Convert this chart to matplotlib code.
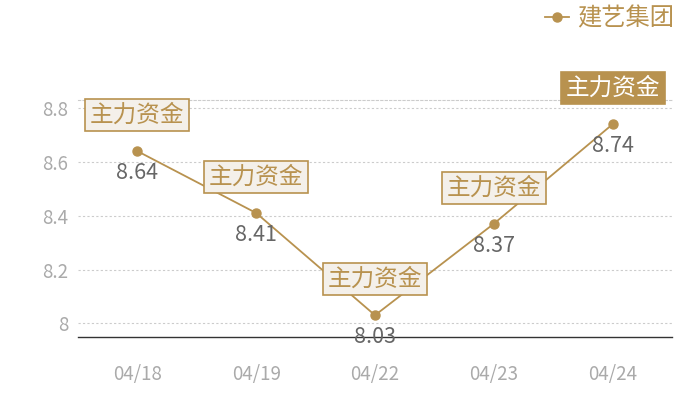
import matplotlib
matplotlib.use("Agg")
import matplotlib.pyplot as plt

plt.rcParams['font.family'] = ['Noto Sans CJK SC', 'DejaVu Sans']

# data
dates = ["04/18", "04/19", "04/22", "04/23", "04/24"]
values = [8.64, 8.41, 8.03, 8.37, 8.74]
box_label = "主力资金"
series_name = "建艺集团"
highlight = 4  # last point gets the filled box

GOLD = "#b8924f"
LIGHT = "#f4f0ea"

fig = plt.figure(figsize=(7, 4), dpi=100)
ax = fig.add_axes([78 / 700, 1 - 337.3 / 400, (672 - 78) / 700, (337.3 - 100.3) / 400])

x = list(range(len(dates)))
ax.plot(x, values, color=GOLD, lw=1.3, marker="o", ms=6.5, zorder=2,
        label=series_name)

ax.set_xlim(-0.5, len(dates) - 0.5)
ax.set_ylim(7.948, 8.829)
ax.set_yticks([8, 8.2, 8.4, 8.6, 8.8])
ax.set_yticklabels(["8", "8.2", "8.4", "8.6", "8.8"])
ax.set_xticks(x)
ax.set_xticklabels(dates)
ax.tick_params(axis="both", length=0, labelsize=13.5, labelcolor="#aaaaaa")
ax.tick_params(axis="x", pad=19)
ax.tick_params(axis="y", pad=7)

ax.yaxis.grid(True, color="#cccccc", linestyle=(0, (2, 2)), lw=0.8)
ax.set_axisbelow(True)
for side in ["left", "right"]:
    ax.spines[side].set_visible(False)
ax.spines["top"].set_color("#cccccc")
ax.spines["top"].set_linestyle((0, (2, 2)))
ax.spines["top"].set_linewidth(0.8)
ax.spines["bottom"].set_color("#333333")
ax.spines["bottom"].set_linewidth(1.0)

for i, v in enumerate(values):
    # value under each point
    ax.annotate(f"{v:.2f}", (i, v), xytext=(0, -22), textcoords="offset pixels",
                ha="center", va="center", fontsize=15.5, color="#666666", zorder=4)
    if i == highlight:
        fc, tc = GOLD, "white"
    else:
        fc, tc = LIGHT, GOLD
    ax.annotate(box_label, (i, v), xytext=(0, 36), textcoords="offset pixels",
                ha="center", va="center", fontsize=17, color=tc, zorder=5,
                bbox=dict(boxstyle="square,pad=0.2", fc=fc, ec=GOLD, lw=1.2))

leg = fig.legend(loc="upper right", bbox_to_anchor=(0.995, 1.04), frameon=False,
                 fontsize=17.5, labelcolor=GOLD, handlelength=1.0, handletextpad=0.35)

fig.savefig("out.png", dpi=100)
